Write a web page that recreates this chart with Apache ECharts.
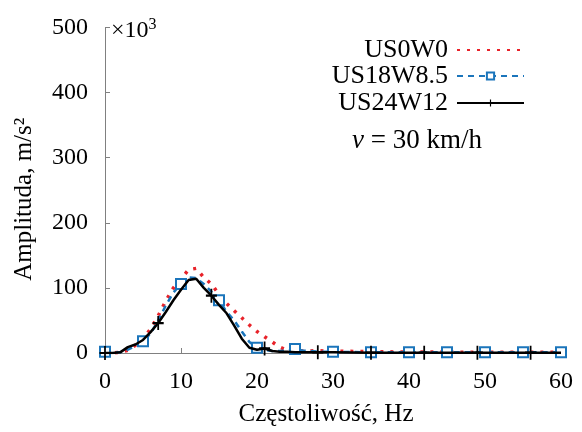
<!DOCTYPE html>
<html><head><meta charset="utf-8">
<script src="https://cdn.jsdelivr.net/npm/echarts@6/dist/echarts.min.js"></script>
<style>html,body{margin:0;padding:0;background:#fff}#c{width:582px;height:432px}</style>
</head><body><div id="c"></div>
<script>
const freq = [0,1,2,3,4,5,6,7,8,9,10,11,12,13,14,15,16,17,18,19,20,21,22,23,24,25,26,27,28,29,30,35,40,42,45,49,50,55,56,60];
const us0w0 = [0,0,1,4,12,22,37,57,80,100,114,128,130,116,106,90,76,65,54,43,33,25,17,9,4,3,3,3,4,3,3,2,1.5,1.5,1.5,1,1,1,1,1];
const us18w85 = [2,1,1,5,11,18,30,50,73,93,106,116,115,106,94,81,63,50,33,17,8,5,3,3,4,6,4,3,2,2,2,1,1,1,1,1,1,1,1,1];
const us24w12 = [0,0,1,9,13,20,32,46,63,81,97,112,114,100,88,74,61,42,22,8,5,7,3,2,2,1,1,1,1,1,1,0.5,0.5,0.5,0.5,0.5,0.5,0.5,0.5,0.5];
const blueMarkers = [0,5,10,15,20,25,30,35,40,45,50,55,60];
const blackMarkers = [0,7,14,21,28,35,42,49,56];
const names = ['US0W0','US18W8.5','US24W12'];
const xTicks = {min:0,max:60,interval:10};
const yTicks = {min:0,max:500,interval:100};

const FONT = '"Liberation Serif", "Times New Roman", serif';
function build(vals, markers){
  return freq.map((f,i)=>{
    const item = {value:[f, vals[i]]};
    if(!markers || markers.indexOf(f) < 0) item.symbol = 'none';
    return item;
  });
}
const plusPath = 'path://M4.2,0H5.8V4.2H10V5.8H5.8V10H4.2V5.8H0V4.2H4.2Z';
const chart = echarts.init(document.getElementById('c'), null, {renderer:'canvas'});
const legendCommon = {orient:'horizontal', align:'right', itemWidth:67, itemHeight:9, itemGap:0,
  textStyle:{fontFamily:FONT, fontSize:26, color:'#000', padding:[0,4,0,0]}, right:52};
chart.setOption({
  animation:false,
  textStyle:{fontFamily:FONT},
  grid:{left:105, right:21, top:27.5, bottom:77},
  title:{text:'{a|×10}{b|3}', left:106, top:12, textStyle:{fontWeight:'normal', rich:{
    a:{fontFamily:FONT,fontSize:24,fontWeight:'normal',color:'#000',verticalAlign:'bottom',lineHeight:26},
    b:{fontFamily:FONT,fontSize:16,fontWeight:'normal',color:'#000',verticalAlign:'top',lineHeight:26}}}},
  legend:[
    Object.assign({}, legendCommon, {data:[names[0]], top:32, itemStyle:{opacity:0}}),
    Object.assign({}, legendCommon, {data:[names[1]], top:58}),
    Object.assign({}, legendCommon, {data:[names[2]], top:85})
  ],
  graphic:[{type:'text', left:352, top:127, style:{text:'{i|v} = 30 km/h', rich:{
    i:{fontFamily:FONT,fontSize:27,fontStyle:'italic',fill:'#000'}}, fontFamily:FONT, fontSize:27, fill:'#000'}}],
  xAxis:{type:'value', min:xTicks.min, max:xTicks.max, interval:xTicks.interval,
    name:'Częstoliwość, Hz', nameLocation:'middle', nameGap:49,
    nameTextStyle:{fontFamily:FONT,fontSize:25,color:'#000',padding:[0,14,0,0]},
    axisLine:{lineStyle:{color:'#808080',width:1}},
    axisTick:{inside:true,length:5,lineStyle:{color:'#808080'}},
    axisLabel:{fontFamily:FONT,fontSize:24,color:'#000',margin:17},
    splitLine:{show:false}},
  yAxis:{type:'value', min:yTicks.min, max:yTicks.max, interval:yTicks.interval,
    name:'Amplituda, m/s²', nameLocation:'middle', nameGap:68,
    nameTextStyle:{fontFamily:FONT,fontSize:25,color:'#000',padding:[0,18,0,0]},
    axisLine:{show:true,lineStyle:{color:'#808080',width:1}},
    axisTick:{show:true,inside:true,length:5,lineStyle:{color:'#808080'}},
    axisLabel:{fontFamily:FONT,fontSize:24,color:'#000',margin:17},
    splitLine:{show:false}},
  series:[
    {name:names[0], type:'line', data:build(us0w0,null), symbol:'none', z:2,
      lineStyle:{color:'#e8232a', width:3.5, type:[3,7]}, itemStyle:{color:'#e8232a'}},
    {name:names[1], type:'line', data:build(us18w85,blueMarkers), symbol:'emptyRect', symbolSize:10, z:3,
      lineStyle:{color:'#1b75bb', width:2.5, type:[6,5]}, itemStyle:{color:'#1b75bb', borderWidth:2}},
    {name:names[2], type:'line', data:build(us24w12,blackMarkers), symbol:plusPath, symbolSize:[11,14], z:4,
      lineStyle:{color:'#000', width:2.5, type:'solid'}, itemStyle:{color:'#000'}}
  ]
});
</script></body></html>
